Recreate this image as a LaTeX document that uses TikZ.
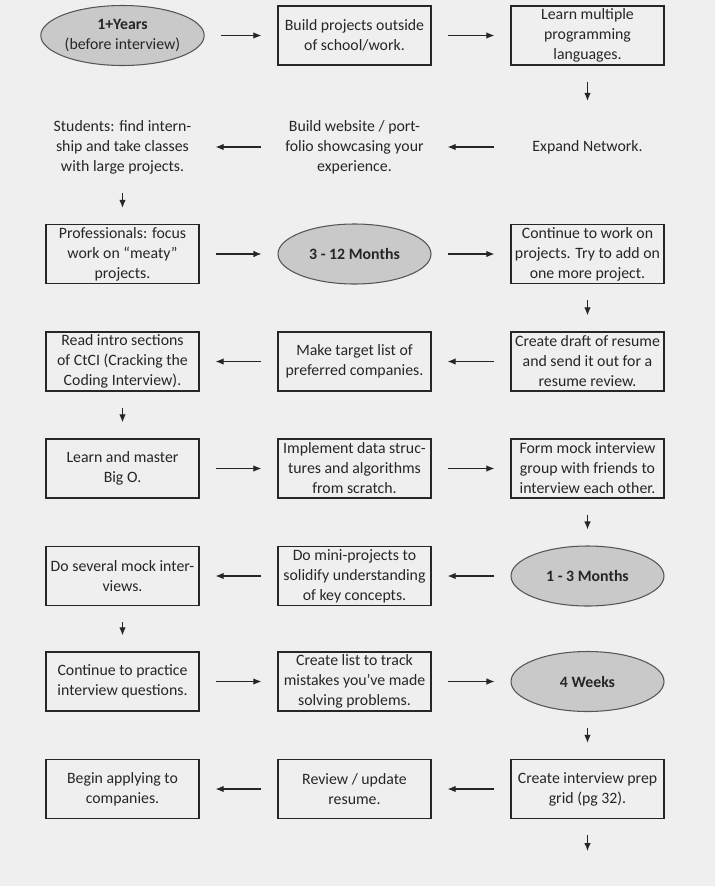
\documentclass[tikz,border=0pt]{standalone}
\usepackage{fontspec}
\setmainfont{Carlito}
\usetikzlibrary{shapes.geometric,arrows.meta}

\definecolor{pagebg}{HTML}{EFEFEF}
\definecolor{ovalfill}{HTML}{C9C9C9}
\definecolor{ovalline}{HTML}{555555}
\definecolor{inkdark}{HTML}{262626}

\tikzset{
    stepbox/.style={draw=inkdark,line width=0.75pt,minimum width=3.06cm,minimum height=1.18cm,
        inner sep=0pt,align=center,text=inkdark,font=\fontsize{9}{11.4}\selectfont},
    plainstep/.style={stepbox,draw=none},
    milestone/.style={ellipse,draw=ovalline,fill=ovalfill,line width=0.6pt,minimum width=3.06cm,
        minimum height=1.2cm,inner sep=0pt,align=center,text=inkdark,font=\fontsize{9}{11.4}\selectfont},
    flow/.style={-{Latex[length=1.6mm,width=1.3mm]},line width=0.6pt,draw=inkdark,
        shorten >=0.32cm,shorten <=0.32cm}
}

\begin{document}
\begin{tikzpicture}
    \fill[pagebg] (0,0) rectangle (14.3,-17.72);
    \useasboundingbox (0,0) rectangle (14.3,-17.72);

    % I
    \node[milestone] (years) at (2.45,-0.71) {\textbf{1+Years}\\(before interview)};
    \node[stepbox] (outside) at (7.09,-0.71) {Build projects outside\\of school/work.};
    \node[stepbox] (languages) at (11.75,-0.71) {Learn multiple\\programming\\languages.};

    \node[plainstep] (students) at (2.45,-2.94) {Students: find intern-\\ship and take classes\\with large projects.};
    \node[plainstep] (website) at (7.09,-2.94) {Build website / port-\\folio showcasing your\\experience.};
    \node[plainstep] (network) at (11.75,-2.94) {Expand Network.};

    \node[stepbox] (meaty) at (2.45,-5.08) {Professionals: focus\\work on “meaty”\\projects.};
    \node[milestone] (months12) at (7.09,-5.08) {\textbf{3 - 12 Months}};
    \node[stepbox] (oneMore) at (11.75,-5.08) {Continue to work on\\projects. Try to add on\\one more project.};

    \draw[flow] (years) -- (outside);
    \draw[flow] (outside) -- (languages);
    \draw[flow] (languages) -- (network);
    \draw[flow] (network) -- (website);
    \draw[flow] (website) -- (students);
    \draw[flow] (students) -- (meaty);
    \draw[flow] (meaty) -- (months12);
    \draw[flow] (months12) -- (oneMore);

    % II
    \node[stepbox] (ctci) at (2.45,-7.23) {Read intro sections\\of CtCI (Cracking the\\Coding Interview).};
    \node[stepbox] (targets) at (7.09,-7.23) {Make target list of\\preferred companies.};
    \node[stepbox] (resume) at (11.75,-7.23) {Create draft of resume\\and send it out for a\\resume review.};

    \node[stepbox] (bigO) at (2.45,-9.37) {Learn and master\\Big O.};
    \node[stepbox] (scratch) at (7.09,-9.37) {Implement data struc-\\tures and algorithms\\from scratch.};
    \node[stepbox] (group) at (11.75,-9.37) {Form mock interview\\group with friends to\\interview each other.};

    \node[stepbox] (mocks) at (2.45,-11.52) {Do several mock inter-\\views.};
    \node[stepbox] (mini) at (7.09,-11.52) {Do mini-projects to\\solidify understanding\\of key concepts.};
    \node[milestone] (months3) at (11.75,-11.52) {\textbf{1 - 3 Months}};

    \draw[flow] (oneMore) -- (resume);
    \draw[flow] (resume) -- (targets);
    \draw[flow] (targets) -- (ctci);
    \draw[flow] (ctci) -- (bigO);
    \draw[flow] (bigO) -- (scratch);
    \draw[flow] (scratch) -- (group);
    \draw[flow] (group) -- (months3);
    \draw[flow] (months3) -- (mini);
    \draw[flow] (mini) -- (mocks);

    % III
    \node[stepbox] (practice) at (2.45,-13.63) {Continue to practice\\interview questions.};
    \node[stepbox] (mistakes) at (7.09,-13.63) {Create list to track\\mistakes you’ve made\\solving problems.};
    \node[milestone] (weeks4) at (11.75,-13.63) {\textbf{4 Weeks}};

    \node[stepbox] (applying) at (2.45,-15.78) {Begin applying to\\companies.};
    \node[stepbox] (update) at (7.09,-15.78) {Review / update\\resume.};
    \node[stepbox] (grid) at (11.75,-15.78) {Create interview prep\\grid (pg 32).};
    \coordinate (nextPage) at (11.75,-17.34);

    \draw[flow] (mocks) -- (practice);
    \draw[flow] (practice) -- (mistakes);
    \draw[flow] (mistakes) -- (weeks4);
    \draw[flow] (weeks4) -- (grid);
    \draw[flow] (grid) -- (update);
    \draw[flow] (update) -- (applying);
    \draw[flow] (grid.south) -- (nextPage);
\end{tikzpicture}
\end{document}
